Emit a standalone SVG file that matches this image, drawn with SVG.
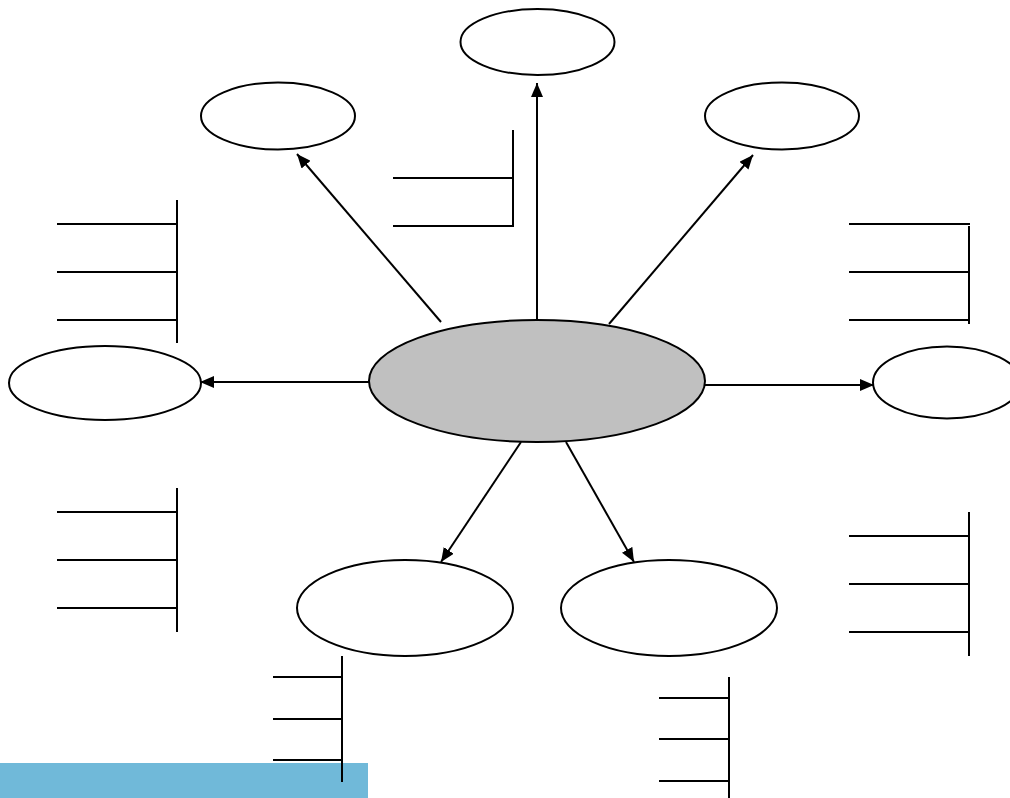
<svg xmlns="http://www.w3.org/2000/svg" width="1010" height="798" viewBox="0 0 1010 798">
<style>
.node{fill:#fff;stroke:#000;stroke-width:2}
.hub{fill:#c0c0c0;stroke:#000;stroke-width:2}
.ln{stroke:#000;stroke-width:2;fill:none}
.lad{stroke:#000;stroke-width:2;fill:none}
</style>
<defs>
<marker id="ah" markerWidth="14" markerHeight="12" refX="14" refY="6" orient="auto" markerUnits="userSpaceOnUse">
<path d="M0,0 L14,6 L0,12 Z" fill="#000"/>
</marker>
</defs>
<rect x="0" y="0" width="1010" height="798" fill="#fff"/>
<g id="connectors">
<line class="ln" x1="537" y1="320" x2="537" y2="83" marker-end="url(#ah)"/>
<line class="ln" x1="441" y1="322" x2="297" y2="154" marker-end="url(#ah)"/>
<line class="ln" x1="609" y1="324" x2="753" y2="155" marker-end="url(#ah)"/>
<line class="ln" x1="369" y1="382" x2="200" y2="382" marker-end="url(#ah)"/>
<line class="ln" x1="705" y1="385" x2="874" y2="385" marker-end="url(#ah)"/>
<line class="ln" x1="521" y1="442" x2="441" y2="562" marker-end="url(#ah)"/>
<line class="ln" x1="566" y1="442" x2="634" y2="562" marker-end="url(#ah)"/>
</g>
<g id="node-top"><ellipse class="node" cx="537.5" cy="42" rx="77" ry="33"/></g>
<g id="node-topleft"><ellipse class="node" cx="278" cy="116" rx="77" ry="33.5"/></g>
<g id="node-topright"><ellipse class="node" cx="782" cy="116" rx="77" ry="33.5"/></g>
<g id="node-center"><ellipse class="hub" cx="537" cy="381" rx="168" ry="61"/></g>
<g id="node-left"><ellipse class="node" cx="105" cy="383" rx="96" ry="37"/></g>
<g id="node-right"><ellipse class="node" cx="947" cy="382.5" rx="74" ry="36"/></g>
<g id="node-bottomleft"><ellipse class="node" cx="405" cy="608" rx="108" ry="48"/></g>
<g id="node-bottomright"><ellipse class="node" cx="669" cy="608" rx="108" ry="48"/></g>
<rect x="0" y="763" width="368" height="35" fill="#70b9d9"/>
<g id="ladder-topcenter">
<path class="lad" d="M513,130 V227 M393,178 H513 M393,226 H514"/>
</g>
<g id="ladder-leftupper">
<path class="lad" d="M177,200 V343 M57,224 H177 M57,272 H177 M57,320 H177"/>
</g>
<g id="ladder-rightupper">
<path class="lad" d="M969,226 V324 M849,224 H970 M849,272 H969 M849,320 H969"/>
</g>
<g id="ladder-leftlower">
<path class="lad" d="M177,488 V632 M57,512 H177 M57,560 H177 M57,608 H177"/>
</g>
<g id="ladder-rightlower">
<path class="lad" d="M969,512 V656 M849,536 H969 M849,584 H969 M849,632 H969"/>
</g>
<g id="ladder-bottomleft">
<path class="lad" d="M342,656 V782 M273,677 H342 M273,719 H342 M273,760 H342"/>
</g>
<g id="ladder-bottomright">
<path class="lad" d="M729,677 V798 M659,698 H729 M659,739 H729 M659,781 H729"/>
</g>
</svg>
